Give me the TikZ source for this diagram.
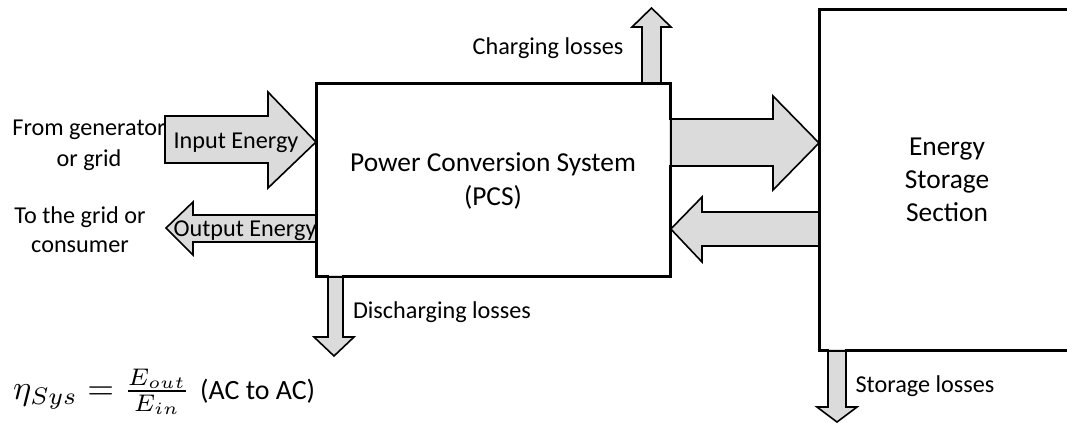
\documentclass[tikz,border=0pt]{standalone}
\usepackage{graphicx}
\usepackage{fontspec}
\setmainfont{Carlito}
\begin{document}
\begin{tikzpicture}[x=1bp,y=-1bp,
  blk/.style={draw=black,line width=1.8bp,fill=white},
  barrow/.style={draw=black,line width=1.6bp,fill=gray!28,line join=miter},
  lbl/.style={font=\fontsize{24.3}{31}\selectfont,inner sep=0pt,align=center},
  biglbl/.style={font=\fontsize{27.5}{33}\selectfont,inner sep=0pt,align=center},
]
\useasboundingbox (0,0) rectangle (1067,423);
\clip (0,0) rectangle (1067,423);
\fill[white] (0,0) rectangle (1067,423);
% boxes
\node[blk,minimum width=353bp,minimum height=192bp,anchor=north west,inner sep=0pt] (pcs) at (316,83) {};
\node[blk,minimum width=260bp,minimum height=340bp,anchor=north west,inner sep=0pt] (ess) at (819,9) {};
% block arrows
% input energy
\draw[barrow] (165,116) -- (268,116) -- (268,92) -- (pcs.west |- 0,142) -- (268,188) -- (268,163) -- (165,163) -- cycle;
% output energy
\draw[barrow] (316,215) -- (193,215) -- (193,202) -- (166,228) -- (193,255) -- (193,242) -- (316,242);
% PCS -> ESS
\draw[barrow] (669,119) -- (773,119) -- (773,96) -- (ess.west |- 0,143) -- (773,190) -- (773,166) -- (669,166);
% ESS -> PCS
\draw[barrow] (819,212) -- (702,212) -- (702,197) -- (pcs.east |- 0,229) -- (702,262) -- (702,246) -- (819,246);
% charging losses
\draw[barrow] (642,83) -- (642,27) -- (632,27) -- (651.5,8) -- (671,27) -- (661,27) -- (661,83);
% discharging losses
\draw[barrow] (328,275) -- (328,337) -- (314,337) -- (334,356) -- (354,337) -- (343,337) -- (343,275);
% storage losses
\draw[barrow] (828,349) -- (828,407) -- (817,407) -- (837,422) -- (857,407) -- (846,407) -- (846,349);
% redraw box borders on top
\draw[line width=1.8bp] (pcs.north west) rectangle (pcs.south east);
\draw[line width=1.8bp] (ess.north west) rectangle (ess.south east);
% labels
\node[biglbl] (tpcs) at (493,181) {Power Conversion System\\[1bp](PCS)};
\node[biglbl] (tess) at (947,180) {Energy\\Storage\\Section};
\node[lbl] (tin) at (236,143) {Input Energy};
\node[lbl] (tout) at (245,231) {Output Energy};
\node[lbl] (tfrom) at (89,145) {From generator\\or grid};
\node[lbl] (tto) at (80,230) {To the grid or\\[-2bp]consumer};
\node[lbl] (tch) at (548,48) {Charging losses};
\node[lbl] (tdis) at (442,312) {Discharging losses};
\node[lbl] (tst) at (925,386) {Storage losses};
\node[inner sep=0pt,anchor=west] (eq) at (13,392) {\scalebox{3.45}{$\eta_{Sys} = \frac{E_{out}}{E_{in}}$}\hspace{10bp}\fontsize{28}{32}\selectfont (AC to AC)};
\end{tikzpicture}
\end{document}
